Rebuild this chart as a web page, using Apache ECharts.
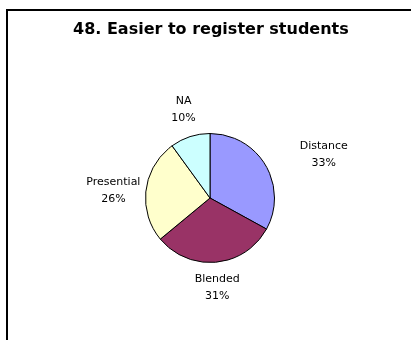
<!DOCTYPE html>
<html>
<head>
<meta charset="utf-8">
<script src="https://cdn.jsdelivr.net/npm/echarts@6/dist/echarts.min.js"></script>
<style>
  html, body { margin: 0; padding: 0; background: #fff; }
  #chart { width: 411px; height: 340px; }
</style>
</head>
<body>
<div id="chart"></div>
<script>
var titleText = '48. Easier to register students';
var categories = ['Distance', 'Blended', 'Presential', 'NA'];
var values = [33, 31, 26, 10];
var colors = ['#9999FF', '#993366', '#FFFFCC', '#CCFFFF'];

var cx = 210, cy = 198, R = 64.5;
var total = values.reduce(function (a, b) { return a + b; }, 0);

var dom = document.getElementById('chart');
var myChart = echarts.init(dom);

var pieData = [];
for (var i = 0; i < categories.length; i++) {
  pieData.push({ name: categories[i], value: values[i], itemStyle: { color: colors[i] } });
}

// small hand nudges so the labels sit where Excel put them
var nudge = [[21, 12], [-2, -7], [10, 6], [4, 5]];

// place each label along its slice's mid angle, just outside the rim
function placeLabel(params) {
  var before = 0;
  for (var k = 0; k < params.dataIndex; k++) before += values[k];
  var mid = (before + values[params.dataIndex] / 2) / total * Math.PI * 2;
  var dx = Math.sin(mid), dy = -Math.cos(mid);
  var w = params.labelRect.width / 2, h = params.labelRect.height / 2;
  var d = R + 14 + Math.abs(dx) * w + Math.abs(dy) * h;
  var n = nudge[params.dataIndex];
  return {
    x: cx + dx * d + n[0],
    y: cy + dy * d + n[1],
    align: 'center',
    verticalAlign: 'middle'
  };
}

var option = {
  animation: false,
  title: {
    text: titleText,
    left: 68,
    top: 17,
    textStyle: {
      fontFamily: 'DejaVu Sans',
      fontWeight: 'bold',
      fontSize: 16,
      color: '#000'
    }
  },
  graphic: [{
    type: 'polyline',
    shape: { points: [[7, 340], [7, 10], [411, 10]] },
    style: { stroke: '#000', lineWidth: 2, fill: null }
  }],
  series: [{
    type: 'pie',
    center: [cx, cy],
    radius: R,
    startAngle: 90,
    clockwise: true,
    data: pieData,
    itemStyle: { borderColor: '#000', borderWidth: 1 },
    label: {
      show: true,
      position: 'outside',
      formatter: function (p) { return p.name + '\n' + Math.round(p.value / total * 100) + '%'; },
      fontFamily: 'DejaVu Sans',
      fontSize: 11,
      lineHeight: 17,
      color: '#000'
    },
    labelLine: { show: false },
    labelLayout: placeLabel,
    emphasis: { disabled: true }
  }]
};

myChart.setOption(option);
</script>
</body>
</html>
